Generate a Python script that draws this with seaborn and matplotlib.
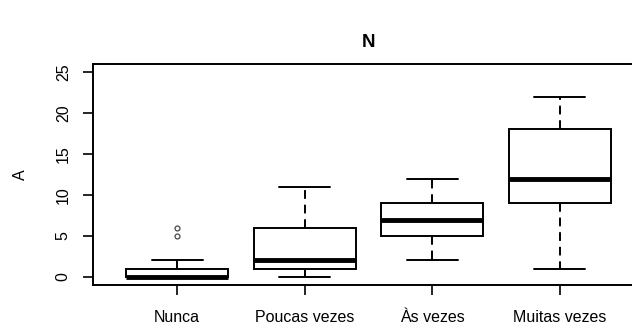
import matplotlib
matplotlib.use("Agg")
import matplotlib.pyplot as plt
import seaborn as sns
import pandas as pd

# raw answers per category (chosen so the box stats match the picture)
categories = ["Nunca", "Poucas vezes", "Às vezes", "Muitas vezes"]
nunca = [0, 0, 0, 0, 0, 0, 0, 0, 1, 1, 1, 2, 5, 6]
poucas = [0, 1, 1, 1, 2, 2, 4, 6, 6, 9, 11]
as_vezes = [2, 4, 5, 6, 7, 8, 9, 10, 12]
muitas = [1, 6, 9, 11, 12, 15, 18, 20, 22]
y_ticks = [0, 5, 10, 15, 20, 25]

values = [nunca, poucas, as_vezes, muitas]
df = pd.DataFrame({
    "N": [c for c, v in zip(categories, values) for _ in v],
    "A": [x for v in values for x in v],
})

sns.set_style("white")
plt.rcParams["font.family"] = ["Liberation Sans", "DejaVu Sans"]
plt.rcParams["text.color"] = "black"
plt.rcParams["axes.labelcolor"] = "black"
plt.rcParams["xtick.color"] = "black"
plt.rcParams["ytick.color"] = "black"

fig = plt.figure(figsize=(6.32, 3.29), dpi=100)
# right side of the plot box runs past the figure edge, like the original
ax = fig.add_axes([93 / 632, 44 / 329, 551 / 632, 221 / 329])

sns.boxplot(data=df, x="N", y="A", order=categories, ax=ax, color="white",
            width=0.8, linewidth=1.4, whis=1.5,
            boxprops=dict(edgecolor="black", facecolor="white"),
            medianprops=dict(color="black", linewidth=3.5),
            whiskerprops=dict(color="black", linestyle=(0, (4.5, 3))),
            capprops=dict(color="black"),
            capwidths=0.4,
            flierprops=dict(marker="o", markersize=3.5, markerfacecolor="none",
                            markeredgecolor="#444444", markeredgewidth=0.9))

ax.set_xlim(0.34 - 1, 4.66 - 1)
ax.set_ylim(-1, 26)
ax.set_yticks(y_ticks)
ax.set_yticklabels([str(t) for t in y_ticks], rotation=90, va="center")
ax.tick_params(axis="both", direction="out", length=7, width=1.2,
               labelsize=11.5, color="black", labelcolor="black", pad=9,
               bottom=True, left=True)
ax.tick_params(axis="x", pad=11)
for s in ax.spines.values():
    s.set_visible(True)
    s.set_color("black")
    s.set_linewidth(1.4)

ax.set_xlabel("")
ax.set_ylabel("A", fontsize=11.5, labelpad=20, color="black")
ax.set_title("N", fontsize=13.5, fontweight="bold", pad=12, color="black")

fig.savefig("out.png", dpi=100)
